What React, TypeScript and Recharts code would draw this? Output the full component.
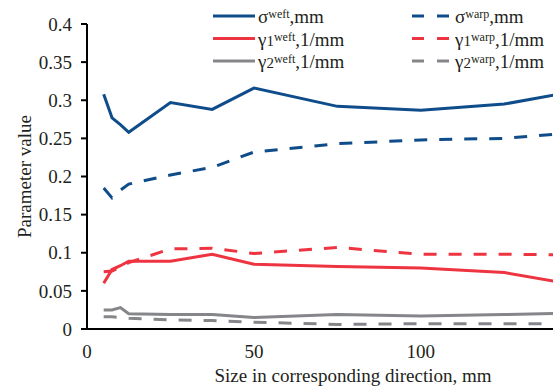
import { Label, Legend, Line, LineChart, XAxis, YAxis } from "recharts";
import { type JSX } from "react";

const sizes = [5, 7.5, 10, 12.5, 25, 37.5, 50, 75, 100, 125, 150];

const sigmaWeft = [0.308, 0.277, 0.268, 0.258, 0.297, 0.288, 0.316, 0.292, 0.287, 0.295, 0.315];
const sigmaWarp = [0.185, 0.172, 0.182, 0.19, 0.202, 0.212, 0.232, 0.243, 0.248, 0.25, 0.259];
const gamma1Weft = [0.06, 0.078, 0.083, 0.089, 0.089, 0.098, 0.085, 0.082, 0.08, 0.074, 0.055];
const gamma1Warp = [0.075, 0.076, 0.081, 0.087, 0.105, 0.106, 0.099, 0.107, 0.098, 0.098, 0.097];
const gamma2Weft = [0.025, 0.025, 0.028, 0.02, 0.019, 0.019, 0.015, 0.019, 0.017, 0.019, 0.021];
const gamma2Warp = [0.016, 0.016, 0.015, 0.014, 0.012, 0.011, 0.009, 0.006, 0.007, 0.007, 0.007];

const yTicks = [0, 0.05, 0.1, 0.15, 0.2, 0.25, 0.3, 0.35, 0.4];
const xTicks = [0, 50, 100];

const BLUE = "#0f4c8a";
const RED = "#ee3441";
const GRAY = "#85868a";
const FONT = "Liberation Serif";
const TEXT = "#231f20";

interface ISeries {
  key: string;
  values: number[];
  color: string;
  dashed: boolean;
  symbol: string;
  sub: string;
  sup: string;
  unit: string;
}

const series: ISeries[] = [
  { key: "sigmaWeft", values: sigmaWeft, color: BLUE, dashed: false, symbol: "σ", sub: "", sup: "weft", unit: ",mm" },
  { key: "sigmaWarp", values: sigmaWarp, color: BLUE, dashed: true, symbol: "σ", sub: "", sup: "warp", unit: ",mm" },
  { key: "gamma1Weft", values: gamma1Weft, color: RED, dashed: false, symbol: "γ", sub: "1", sup: "weft", unit: ",1/mm" },
  { key: "gamma1Warp", values: gamma1Warp, color: RED, dashed: true, symbol: "γ", sub: "1", sup: "warp", unit: ",1/mm" },
  { key: "gamma2Weft", values: gamma2Weft, color: GRAY, dashed: false, symbol: "γ", sub: "2", sup: "weft", unit: ",1/mm" },
  { key: "gamma2Warp", values: gamma2Warp, color: GRAY, dashed: true, symbol: "γ", sub: "2", sup: "warp", unit: ",1/mm" },
];

const data = sizes.map((size, i) => {
  const row: Record<string, number> = { size };
  series.forEach((s) => {
    row[s.key] = s.values[i];
  });
  return row;
});

const textStyle = { fontFamily: FONT, fontSize: 19, fill: TEXT };

const ChartLegend = (): JSX.Element => (
  <svg width={553} height={75} style={{ display: "block" }}>
    {series.map((s, i) => {
      const col = i % 2;
      const row = Math.floor(i / 2);
      const y = 16 + row * 22.5;
      const x1 = col === 0 ? 213 : 412;
      const x2 = col === 0 ? 255 : 450;
      const tx = col === 0 ? 258 : 455;
      return (
        <g key={s.key}>
          <line
            x1={x1}
            x2={x2}
            y1={y}
            y2={y}
            stroke={s.color}
            strokeWidth={3}
            strokeDasharray={s.dashed ? "12 13" : undefined}
          />
          <text x={tx} y={y + 7} fontFamily={FONT} fontSize={19} fill={TEXT}>
            {s.symbol}
            {s.sub && <tspan fontSize={15}>{s.sub}</tspan>}
            <tspan dy={-5} fontSize={12}>
              {s.sup}
            </tspan>
            <tspan dy={5}>{s.unit}</tspan>
          </text>
        </g>
      );
    })}
  </svg>
);

const XTitle = ({ viewBox }: any): JSX.Element => (
  <text x={viewBox.x + viewBox.width / 2 + 33} y={382} textAnchor="middle" {...textStyle}>
    Size in corresponding direction, mm
  </text>
);

const App = (): JSX.Element => {
  return (
    <div style={{ position: "absolute", left: 0, top: 0 }}>
      <LineChart width={553} height={388} data={data} margin={{ top: 24, right: 0, bottom: 0, left: 0 }}>
        <XAxis
          dataKey="size"
          type="number"
          domain={[0, 139.6]}
          ticks={xTicks}
          allowDataOverflow
          height={59}
          axisLine={{ stroke: "#000", strokeWidth: 2 }}
          tickLine={false}
          tickSize={6}
          tickMargin={9.5}
          tick={textStyle}
        >
          <Label content={XTitle} />
        </XAxis>
        <YAxis
          type="number"
          domain={[0, 0.4]}
          ticks={yTicks}
          width={87}
          axisLine={{ stroke: "#000", strokeWidth: 2 }}
          tickLine={{ stroke: "#000", strokeWidth: 2 }}
          tickSize={6}
          tickMargin={9}
          tick={textStyle}
        >
          <Label
            value="Parameter value"
            angle={-90}
            position="insideLeft"
            offset={24}
            style={{ ...textStyle, textAnchor: "middle" }}
          />
        </YAxis>
        <Legend
          layout="horizontal"
          verticalAlign="middle"
          align="center"
          wrapperStyle={{ top: 0, left: 0, width: 553 }}
          content={() => <ChartLegend />}
        />
        {series.map((s) => (
          <Line
            key={s.key}
            dataKey={s.key}
            stroke={s.color}
            strokeWidth={3}
            strokeDasharray={s.dashed ? "13 12" : undefined}
            dot={false}
            activeDot={false}
            isAnimationActive={false}
          />
        ))}
      </LineChart>
    </div>
  );
};

export default App;
